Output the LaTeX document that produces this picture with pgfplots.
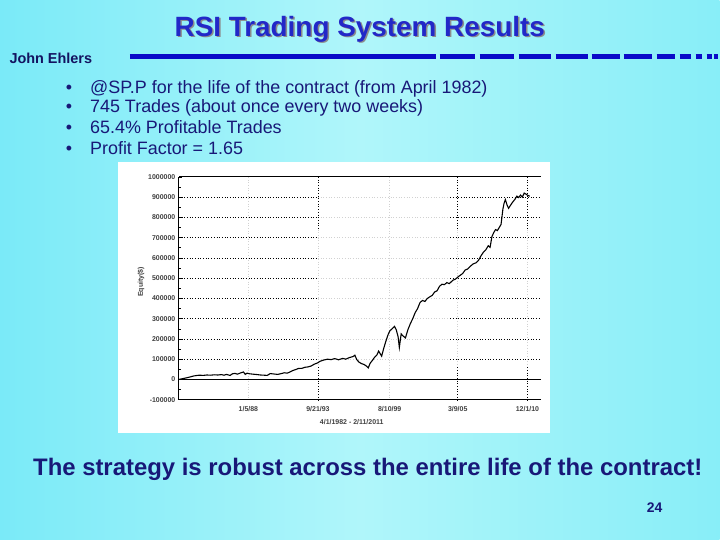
\documentclass[border=0pt]{standalone}
\usepackage{pgfplots}
\pgfplotsset{compat=1.18}
\usepackage{fontspec}
\setmainfont{Liberation Sans}
\definecolor{bgA}{RGB}{122,234,248}
\definecolor{bgB}{RGB}{136,238,248}
\definecolor{bgC}{RGB}{176,246,250}
\definecolor{titleblue}{RGB}{34,40,200}
\definecolor{navy}{RGB}{24,24,120}
\definecolor{rule}{RGB}{10,10,200}
\begin{document}
\begin{tikzpicture}[x=1bp,y=1bp]
\shade[left color=bgA, right color=bgB, middle color=bgC] (0,0) rectangle (720,540);
% title
\node[text=black!45, font=\fontsize{28}{32}\selectfont\bfseries] at (361.5,509.5) {RSI Trading System Results};
\node[text=titleblue, font=\fontsize{28}{32}\selectfont\bfseries] at (360,511) {RSI Trading System Results};
\node[anchor=west, text=navy!80!black, font=\fontsize{14.5}{16}\selectfont\bfseries] at (6,482) {John Ehlers};
\draw[rule, line width=5bp] (130,483) -- (436,483);
\foreach \a/\b in {440/475,480/514,519/551,556/588,592/620,624/652,657/675,680/691,696/702,707/712,714/718}
  \draw[rule, line width=5bp] (\a,483) -- (\b,483);
% bullets
\foreach \yy/\tt in {446.5/{@SP.P for the life of the contract (from April 1982)},427.5/{745 Trades (about once every two weeks)},406.5/{65.4\% Profitable Trades},385.5/{Profit Factor = 1.65}}{
  \node[anchor=base west, inner sep=0pt, text=navy, font=\fontsize{18}{20}\selectfont] at (90,\yy) {\tt};
  \node[anchor=base, inner sep=0pt, text=navy, font=\fontsize{18}{20}\selectfont] at (69,\yy) {•};
}
% chart white box
\fill[white] (118,107) rectangle (550,378);
\begin{axis}[
  at={(179bp,140bp)}, anchor=south west, scale only axis,
  width=362bp, height=223bp,
  xmin=1982.3, xmax=2012.0, ymin=-100000, ymax=1000000,
  axis x line*=bottom, axis y line*=left,
  axis line style={black, line width=0.9pt, -},
  xtick={1988.01,1993.72,1999.61,2005.19,2010.92},
  xticklabels={1/5/88,9/21/93,8/10/99,3/9/05,12/1/10},
  ytick={-100000,0,100000,200000,300000,400000,500000,600000,700000,800000,900000,1000000},
  minor y tick num=1,
  scaled y ticks=false,
  yticklabel style={/pgf/number format/fixed, /pgf/number format/1000 sep={}},
  /pgf/number format/assume math mode=true,
  tick align=inside, major tick length=3bp, minor tick length=2bp,
  xtick style={draw=none}, ytick style={black, line width=0.6pt},
  tick label style={font=\fontsize{7}{8}\selectfont\bfseries, text=black!75},
  xticklabel style={yshift=-3bp},
  clip=false,
]
% horizontal grid (dotted, faint in the middle region as in the picture)
\foreach \v in {100000,200000,300000,400000,500000,600000,700000,800000,900000}{
  \edef\tmp{\noexpand\draw[dotted, black, line width=0.7pt] (axis cs:1982.3,\v) -- (axis cs:1993.72,\v);
  \noexpand\draw[dotted, black!18, line width=0.7pt] (axis cs:1993.72,\v) -- (axis cs:2004.57,\v);
  \noexpand\draw[dotted, black, line width=0.7pt] (axis cs:2004.57,\v) -- (axis cs:2012,\v);}\tmp
}
% vertical grid
\foreach \u in {1993.72,2005.19,2010.92}{
  \edef\tmp{\noexpand\draw[dotted, black, line width=0.7pt] (axis cs:\u,1000000) -- (axis cs:\u,740000);
  \noexpand\draw[dotted, black!18, line width=0.7pt] (axis cs:\u,740000) -- (axis cs:\u,60000);
  \noexpand\draw[dotted, black, line width=0.7pt] (axis cs:\u,60000) -- (axis cs:\u,-100000);}\tmp
}
\foreach \u in {1988.01,1999.61}{
  \edef\tmp{\noexpand\draw[dotted, black!18, line width=0.7pt] (axis cs:\u,1000000) -- (axis cs:\u,-100000);}\tmp
}
\draw[black, line width=0.9pt] (rel axis cs:0,1) -- (rel axis cs:1,1);
\draw[black, line width=0.9pt] (axis cs:1982.3,0) -- (axis cs:2012,0);
\addplot[black, line width=1.1pt] coordinates {
(1982.30,0) (1982.45,2000) (1982.70,5000) (1983.00,9000) (1983.20,12000)
(1983.50,17000) (1983.80,20000) (1984.00,21000) (1984.30,20000) (1984.60,22000)
(1984.90,21000) (1985.20,23000) (1985.50,22000) (1985.80,24000) (1986.00,21000)
(1986.20,25000) (1986.50,20000) (1986.70,28000) (1986.90,30000) (1987.10,26000)
(1987.40,33000) (1987.60,37000) (1987.75,25000) (1987.90,31000) (1988.10,28000)
(1988.40,26000) (1988.75,24000) (1989.00,22000) (1989.30,21000) (1989.55,20000)
(1989.80,29000) (1990.10,27000) (1990.40,25000) (1990.65,28000) (1990.95,33000)
(1991.20,31000) (1991.45,38000) (1991.65,44000) (1991.90,49000) (1992.10,54000)
(1992.40,55000) (1992.65,60000) (1992.90,62000) (1993.15,66000) (1993.40,75000)
(1993.70,82000) (1993.90,90000) (1994.20,96000) (1994.50,100000) (1994.80,98000)
(1995.10,103000) (1995.40,97000) (1995.75,104000) (1996.00,100000) (1996.30,108000)
(1996.60,113000) (1996.75,120000) (1996.90,98000) (1997.10,85000) (1997.30,78000)
(1997.50,74000) (1997.70,66000) (1997.85,57000) (1998.00,80000) (1998.20,95000)
(1998.35,108000) (1998.55,120000) (1998.70,140000) (1998.85,125000) (1998.95,115000)
(1999.10,150000) (1999.30,190000) (1999.50,225000) (1999.62,240000) (1999.80,250000)
(2000.00,262000) (2000.15,245000) (2000.30,210000) (2000.40,158000) (2000.55,225000)
(2000.70,215000) (2000.90,205000) (2001.10,245000) (2001.30,275000) (2001.50,300000)
(2001.70,330000) (2001.90,350000) (2002.10,380000) (2002.30,390000) (2002.50,385000)
(2002.70,400000) (2002.90,408000) (2003.10,415000) (2003.30,432000) (2003.50,438000)
(2003.70,460000) (2003.90,470000) (2004.10,468000) (2004.30,478000) (2004.50,473000)
(2004.80,490000) (2005.00,495000) (2005.30,510000) (2005.60,523000) (2005.80,540000)
(2006.00,545000) (2006.20,557000) (2006.45,570000) (2006.70,576000) (2006.90,588000)
(2007.10,610000) (2007.30,628000) (2007.50,640000) (2007.70,660000) (2007.85,652000)
(2008.00,705000) (2008.15,725000) (2008.30,740000) (2008.45,735000) (2008.60,750000)
(2008.75,765000) (2008.90,840000) (2009.00,870000) (2009.10,888000) (2009.25,860000)
(2009.37,845000) (2009.55,862000) (2009.70,875000) (2009.90,890000) (2010.05,905000)
(2010.20,898000) (2010.35,910000) (2010.50,900000) (2010.65,920000) (2010.80,915000)
(2010.95,908000) (2011.11,905000)
};
\end{axis}
\node[rotate=90, font=\fontsize{7}{8}\selectfont\bfseries, text=black!75] at (141,258) {Equity(\$)};
\node[font=\fontsize{7}{8}\selectfont\bfseries, text=black!75] at (352,118) {4/1/1982 - 2/11/2011};
% bottom
\node[text=navy, font=\fontsize{24}{28}\selectfont\bfseries] at (368,70) {The strategy is robust across the entire life of the contract!};
\node[text=navy, font=\fontsize{14}{16}\selectfont\bfseries] at (655,32) {24};
\end{tikzpicture}
\end{document}
